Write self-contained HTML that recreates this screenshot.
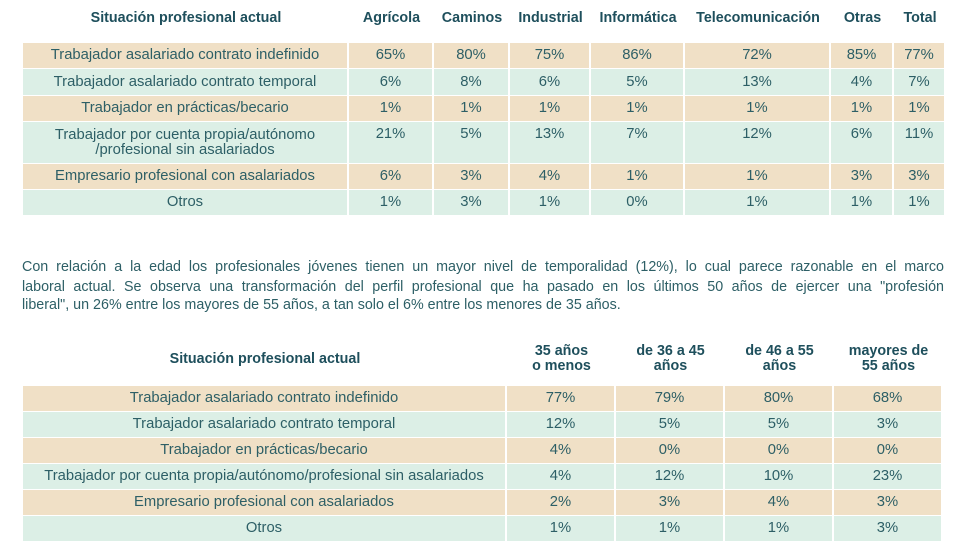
<!DOCTYPE html>
<html><head><meta charset="utf-8"><style>
body{margin:0;width:967px;height:550px;background:#fff;font-family:"Liberation Sans","DejaVu Sans",sans-serif;color:#2d5f66;position:relative;overflow:hidden}
.a{position:absolute;box-sizing:border-box;display:flex;align-items:center;justify-content:center;text-align:center;font-size:14.8px;line-height:15px}
.h{font-weight:bold;color:#1e4f5c;font-size:14.3px}
.b{background:#f0e0c6}.m{background:#dcefe6}
.ln{position:absolute;left:22px;width:922px;margin:0;font-size:14.3px;line-height:19px;text-align:justify;text-align-last:justify;color:#2d5f66;white-space:nowrap}
.ln.last{text-align-last:left;width:auto}
</style></head><body>
<div id="t1"></div>
<div>
<div class="ln" style="top:258px">Con relación a la edad los profesionales jóvenes tienen un mayor nivel de temporalidad (12%), lo cual parece razonable en el marco</div>
<div class="ln" style="top:278px">laboral actual. Se observa una transformación del perfil profesional que ha pasado en los últimos 50 años de ejercer una "profesión</div>
<div class="ln last" style="top:296px">liberal", un 26% entre los mayores de 55 años, a tan solo el 6% entre los menores de 35 años.</div>
</div>
<div id="t2"></div>
<script>
const rows1=["Trabajador asalariado contrato indefinido","Trabajador asalariado contrato temporal","Trabajador en prácticas/becario","Trabajador por cuenta propia/autónomo<br>/profesional sin asalariados","Empresario profesional con asalariados","Otros"];
const heads1=["Situación profesional actual","Agrícola","Caminos","Industrial","Informática","Telecomunicación","Otras","Total"];
const vals1=[["65%","80%","75%","86%","72%","85%","77%"],["6%","8%","6%","5%","13%","4%","7%"],["1%","1%","1%","1%","1%","1%","1%"],["21%","5%","13%","7%","12%","6%","11%"],["6%","3%","4%","1%","1%","3%","3%"],["1%","3%","1%","0%","1%","1%","1%"]];
const rows2=["Trabajador asalariado contrato indefinido","Trabajador asalariado contrato temporal","Trabajador en prácticas/becario","Trabajador por cuenta propia/autónomo/profesional sin asalariados","Empresario profesional con asalariados","Otros"];
const heads2=["Situación profesional actual","35 años<br>o menos","de 36 a 45<br>años","de 46 a 55<br>años","mayores de<br>55 años"];
const vals2=[["77%","79%","80%","68%"],["12%","5%","5%","3%"],["4%","0%","0%","0%"],["4%","12%","10%","23%"],["2%","3%","4%","3%"],["1%","1%","1%","3%"]];
function cell(parent,x,y,w,h,html,cls,name){
  const d=document.createElement('div');
  d.className='a '+cls;
  d.style.cssText=`left:${x}px;top:${y}px;width:${w}px;height:${h}px`;
  d.innerHTML=html;
  
  
  parent.appendChild(d);
}
function build(id,cols,rowY,rowH,headY,headH,heads,rows,vals,valTop){
  const p=document.getElementById(id);
  for(let c=0;c<heads.length;c++){
    cell(p,cols[c],headY,cols[c+1]-cols[c],headH,heads[c],'h','column-header');
  }
  for(let r=0;r<rows.length;r++){
    const cls=r%2?'m':'b';
    cell(p,cols[0],rowY[r],cols[1]-cols[0]-2,rowH[r],rows[r],cls,'row-label');
    for(let c=0;c<vals[r].length;c++){
      const x=cols[c+1];
      cell(p,x,rowY[r],cols[c+2]-x-2,rowH[r],vals[r][c],cls+(valTop&&rowH[r]>30?' top':''),'value-cell');
    }
  }
}
build('t1',[23,349,434,510,591,685,831,894,946],[43,69,96,122,164,190],[25,26,25,41,25,25],4,28,heads1,rows1,vals1,true);
build('t2',[23,507,616,725,834,943],[386,412,438,464,490,516],[25,25,25,25,25,25],335,48,heads2,rows2,vals2,false);
document.querySelectorAll('.top').forEach(e=>{e.style.alignItems='flex-start';e.style.paddingTop='5px'});
</script>
</body></html>
